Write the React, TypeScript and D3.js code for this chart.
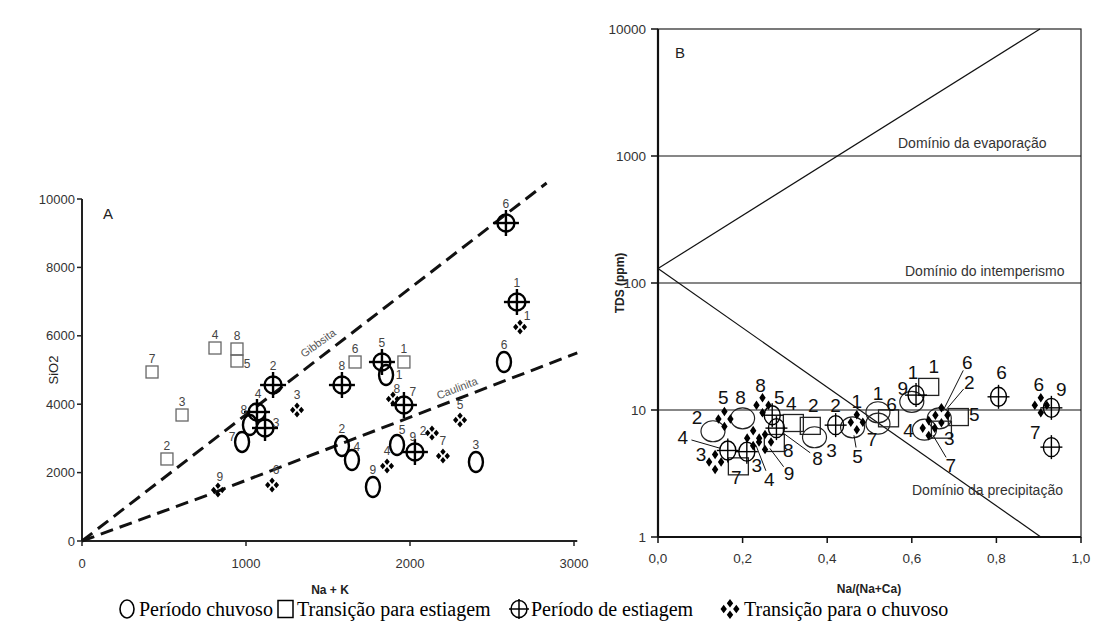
import React from 'react';
import * as d3 from 'd3';

// Each point: [sample number, x value, y value]
type Pt = [number, number, number];

// ---------- Panel A: SiO2 versus Na + K ----------
const chuvosoA: Pt[] = [
  [1, 1854, 4854], [2, 1585, 2778], [3, 2402, 2310], [4, 1646, 2368], [5, 1921, 2807],
  [6, 2573, 5234], [7, 976, 2895], [8, 1024, 3392], [9, 1774, 1579],
];
const transEstiagemA: Pt[] = [
  [1, 1963, 5234], [2, 518, 2398], [3, 610, 3684], [4, 811, 5643], [5, 945, 5263],
  [6, 1665, 5234], [7, 427, 4942], [8, 945, 5614],
];
const estiagemA: Pt[] = [
  [1, 2652, 6988], [2, 1165, 4561], [3, 1116, 3304], [4, 1067, 3772], [5, 1829, 5234],
  [6, 2585, 9298], [7, 1963, 3977], [8, 1585, 4561], [9, 2030, 2602],
];
const transChuvosoA: Pt[] = [
  [1, 2671, 6257], [2, 2134, 3158], [3, 1311, 3830], [4, 1860, 2193], [5, 2305, 3538],
  [6, 1159, 1637], [7, 2201, 2485], [8, 1896, 4152], [9, 829, 1491],
];
const gibbsitaLine: [number, number][] = [[0, 0], [2833, 10468]];
const caulinitaLine: [number, number][] = [[0, 0], [770, 1350], [3020, 5500]];
const sio2Ticks = [0, 2000, 4000, 6000, 8000, 10000];
const nakTicks = [0, 1000, 2000, 3000];

// ---------- Panel B: TDS versus Na/(Na+Ca) ----------
const chuvosoB: Pt[] = [
  [1, 0.52, 9.6], [2, 0.13, 6.8], [3, 0.37, 6.1], [4, 0.63, 7.0], [5, 0.46, 7.3],
  [6, 0.665, 8.6], [7, 0.52, 7.8], [8, 0.2, 8.6], [9, 0.6, 11.6],
];
const transEstiagemB: Pt[] = [
  [1, 0.64, 15.2], [2, 0.36, 7.5], [3, 0.67, 7.0], [4, 0.32, 7.9], [5, 0.71, 8.8],
  [6, 0.545, 8.6], [7, 0.19, 3.6], [8, 0.275, 5.5],
];
const estiagemB: Pt[] = [
  [1, 0.61, 13.1], [2, 0.42, 7.6], [3, 0.21, 4.7], [4, 0.165, 4.8], [5, 0.27, 9.1],
  [6, 0.805, 12.7], [7, 0.93, 5.1], [8, 0.28, 7.2], [9, 0.93, 10.4],
];
const transChuvosoB: Pt[] = [
  [1, 0.47, 8.0], [2, 0.67, 9.1], [3, 0.135, 3.9], [4, 0.225, 6.0], [5, 0.157, 8.5],
  [6, 0.905, 10.9], [7, 0.64, 7.2], [8, 0.247, 10.9], [9, 0.253, 5.6],
];
const evaporationLine: [number, number][] = [[0, 130], [0.903, 10000]];
const precipitationLine: [number, number][] = [[0, 130], [0.905, 1]];
const domainLevels = [10, 100, 1000];
const tdsTicks = [1, 10, 100, 1000, 10000];
const ratioTicks = [0, 0.2, 0.4, 0.6, 0.8, 1.0];

const legendItems = ['Período chuvoso', 'Transição para estiagem', 'Período de estiagem', 'Transição para o chuvoso'];

// ---------- label placement (pixel offsets from the mark) ----------
type Off = [number, number, boolean?];
const defaultDyA = { c: -17, s: -13, x: -19, d: -15 };
const labelOffA: Record<string, Off> = {
  c1: [13, 0], c4: [5, -13], c5: [5, -15], c7: [-10, -5], c8: [-6, -15],
  s5: [10, 3],
  x3: [11, -5], x7: [9, -13], x9: [-2, -15], x4: [1, -18],
  d1: [7, -11], d2: [-9, -2], d6: [4, -15], d8: [4, -10], d9: [2, -13],
};
const labelOffB: Record<string, Off> = {
  c1: [0, -19], c2: [-16, -14], c3: [17, 13], c4: [-16, 1], c5: [5, 29, true], c6: [28, -56, true],
  c7: [-6, 16], c8: [-2, -21], c9: [-9, -13],
  s1: [5, -20], s2: [3, -20], s3: [8, 9], s4: [-2, -20], s5: [16, -3], s6: [3, -14], s7: [-2, 11], s8: [14, 8],
  x1: [-3, -23], x2: [0, -20], x3: [10, 14], x4: [-45, -13, true], x5: [7, -18], x6: [3, -24],
  x7: [-16, -15], x8: [41, 30, true], x9: [10, -18],
  d1: [0, -21], d2: [28, -33, true], d3: [-14, -7], d4: [16, 41, true], d5: [-1, -21], d6: [-2, -21],
  d7: [22, 37, true], d8: [-2, -20], d9: [24, 32, true],
};

const xA = d3.scaleLinear().domain([0, 3000]).range([82, 574]);
const yA = d3.scaleLinear().domain([0, 10000]).range([541, 199]);
const xB = d3.scaleLinear().domain([0, 1]).range([658, 1081]);
const yB = d3.scaleLog().domain([1, 10000]).range([537, 29]);

const SANS = 'Arial, "Liberation Sans", Helvetica, sans-serif';
const SERIF = '"Liberation Serif", "Times New Roman", serif';

function diamondPath(cx: number, cy: number, hw: number, hh: number) {
  return `M${cx},${cy - hh}L${cx + hw},${cy}L${cx},${cy + hh}L${cx - hw},${cy}Z`;
}

function Diamonds({ x, y, hw, hh, ox, oy }: { x: number; y: number; hw: number; hh: number; ox: number; oy: number }) {
  const d = [
    diamondPath(x, y - oy, hw, hh),
    diamondPath(x - ox, y, hw, hh),
    diamondPath(x + ox, y, hw, hh),
    diamondPath(x, y + oy, hw, hh),
  ].join('');
  return <path d={d} fill="#000" stroke="none" />;
}

function Crosshair({ x, y, rx, ry, cx, cy, sw }: { x: number; y: number; rx: number; ry: number; cx: number; cy: number; sw: number }) {
  return (
    <g stroke="#000" strokeWidth={sw} fill="none">
      <ellipse cx={x} cy={y} rx={rx} ry={ry} />
      <line x1={x - cx} x2={x + cx} y1={y} y2={y} />
      <line x1={x} x2={x} y1={y - cy} y2={y + cy} />
    </g>
  );
}

function PanelA() {
  const line = d3.line<[number, number]>().x(d => xA(d[0])).y(d => yA(d[1]));
  const label = (key: string, kind: 'c' | 's' | 'x' | 'd', p: Pt) => {
    const off = labelOffA[key] || [0, defaultDyA[kind]];
    return (
      <text key={'l' + key} x={xA(p[1]) + off[0]} y={yA(p[2]) + off[1]} fontSize={12} fill="#444"
        textAnchor="middle" dominantBaseline="central" fontFamily={SANS}>{p[0]}</text>
    );
  };
  return (
    <g>
      {/* axes */}
      <line x1={xA(0)} x2={xA(0)} y1={yA(0)} y2={yA(10000)} stroke="#222" strokeWidth={2} />
      <line x1={xA(0)} x2={xA(3020)} y1={yA(0)} y2={yA(0)} stroke="#222" strokeWidth={2} />
      {sio2Ticks.map(t => (
        <g key={'ya' + t}>
          <line x1={xA(0) - 5} x2={xA(0)} y1={yA(t)} y2={yA(t)} stroke="#222" strokeWidth={1.5} />
          <text x={xA(0) - 7} y={yA(t)} textAnchor="end" dominantBaseline="central" fontSize={13}
            fill="#333" fontFamily={SANS}>{t}</text>
        </g>
      ))}
      {nakTicks.map(t => (
        <g key={'xa' + t}>
          <line x1={xA(t)} x2={xA(t)} y1={yA(0)} y2={yA(0) + 5} stroke="#222" strokeWidth={1.5} />
          <text x={xA(t)} y={yA(0) + 22} textAnchor="middle" dominantBaseline="central" fontSize={13}
            fill="#333" fontFamily={SANS}>{t}</text>
        </g>
      ))}
      <text x={53} y={370} transform="rotate(-90 53 370)" textAnchor="middle" dominantBaseline="central"
        fontSize={13} fill="#222" fontFamily={SANS}>SiO2</text>
      <text x={330} y={590} textAnchor="middle" dominantBaseline="central" fontSize={12} fontWeight="bold"
        fill="#222" fontFamily={SANS}>Na + K</text>
      <text x={108} y={213} textAnchor="middle" dominantBaseline="central" fontSize={15} fill="#222"
        fontFamily={SANS}>A</text>

      {/* reference lines */}
      <path d={line(gibbsitaLine) || ''} fill="none" stroke="#111" strokeWidth={3} strokeDasharray="13 7" />
      <path d={line(caulinitaLine) || ''} fill="none" stroke="#111" strokeWidth={3} strokeDasharray="13 7" />
      <text x={318} y={343} transform="rotate(-36 318 343)" textAnchor="middle" dominantBaseline="central"
        fontSize={11} fill="#555" fontFamily={SANS}>Gibbsita</text>
      <text x={457} y={388} transform="rotate(-21 457 388)" textAnchor="middle" dominantBaseline="central"
        fontSize={11} fill="#555" fontFamily={SANS}>Caulinita</text>

      {/* samples */}
      {transEstiagemA.map(p => (
        <rect key={'sa' + p[0]} x={xA(p[1]) - 6} y={yA(p[2]) - 6} width={12} height={12}
          fill="none" stroke="#666" strokeWidth={1.3} />
      ))}
      {chuvosoA.map(p => (
        <ellipse key={'ca' + p[0]} cx={xA(p[1])} cy={yA(p[2])} rx={7} ry={10}
          fill="none" stroke="#000" strokeWidth={2.4} />
      ))}
      {estiagemA.map(p => (
        <Crosshair key={'xa' + p[0]} x={xA(p[1])} y={yA(p[2])} rx={8.5} ry={8.5} cx={13} cy={13} sw={2.4} />
      ))}
      {transChuvosoA.map(p => (
        <Diamonds key={'da' + p[0]} x={xA(p[1])} y={yA(p[2])} hw={2.7} hh={3.3} ox={4.3} oy={4.3} />
      ))}
      {transEstiagemA.map(p => label('s' + p[0], 's', p))}
      {chuvosoA.map(p => label('c' + p[0], 'c', p))}
      {estiagemA.map(p => label('x' + p[0], 'x', p))}
      {transChuvosoA.map(p => label('d' + p[0], 'd', p))}
    </g>
  );
}

function PanelB() {
  const line = d3.line<[number, number]>().x(d => xB(d[0])).y(d => yB(d[1]));
  const label = (key: string, p: Pt) => {
    const off = labelOffB[key] || [0, -20];
    const mx = xB(p[1]), my = yB(p[2]);
    const lx = mx + off[0], ly = my + off[1];
    let leader = null;
    if (off[2]) {
      const dist = Math.hypot(off[0], off[1]);
      const ux = -off[0] / dist, uy = -off[1] / dist;
      leader = <line x1={lx + ux * 9} y1={ly + uy * 9} x2={mx - ux * 8} y2={my - uy * 8} stroke="#111" strokeWidth={1} />;
    }
    return (
      <g key={'lb' + key}>
        {leader}
        <text x={lx} y={ly} fontSize={19} fill="#111" textAnchor="middle" dominantBaseline="central"
          fontFamily={SANS}>{p[0]}</text>
      </g>
    );
  };
  return (
    <g>
      {/* frame */}
      <rect x={xB(0)} y={yB(10000)} width={xB(1) - xB(0)} height={yB(1) - yB(10000)} fill="none" stroke="#222" strokeWidth={1.2} />
      <line x1={xB(0)} x2={xB(0)} y1={yB(1)} y2={yB(10000)} stroke="#111" strokeWidth={2.2} />
      <line x1={xB(0)} x2={xB(1)} y1={yB(1)} y2={yB(1)} stroke="#111" strokeWidth={2.2} />
      {tdsTicks.map(t => (
        <g key={'yb' + t}>
          <line x1={xB(0) - 7} x2={xB(0)} y1={yB(t)} y2={yB(t)} stroke="#111" strokeWidth={1.5} />
          <text x={xB(0) - 12} y={yB(t)} textAnchor="end" dominantBaseline="central" fontSize={13.5}
            fill="#333" fontFamily={SANS}>{t}</text>
        </g>
      ))}
      {ratioTicks.map(t => (
        <g key={'xb' + t}>
          <line x1={xB(t)} x2={xB(t)} y1={yB(1)} y2={yB(1) + 6} stroke="#111" strokeWidth={1.5} />
          <text x={xB(t)} y={yB(1) + 21} textAnchor="middle" dominantBaseline="central" fontSize={13.5}
            fill="#333" fontFamily={SANS}>{d3.format('.1f')(t).replace('.', ',')}</text>
        </g>
      ))}
      <text x={620} y={283} transform="rotate(-90 620 283)" textAnchor="middle" dominantBaseline="central"
        fontSize={12} fontWeight="bold" fill="#222" fontFamily={SANS}>TDS (ppm)</text>
      <text x={869} y={589} textAnchor="middle" dominantBaseline="central" fontSize={12} fontWeight="bold"
        fill="#222" fontFamily={SANS}>Na/(Na+Ca)</text>
      <text x={680} y={52} textAnchor="middle" dominantBaseline="central" fontSize={15} fill="#222"
        fontFamily={SANS}>B</text>

      {/* domain boundaries */}
      {domainLevels.map(v => (
        <line key={'h' + v} x1={xB(0)} x2={xB(1)} y1={yB(v)} y2={yB(v)} stroke="#111" strokeWidth={1.2} />
      ))}
      <path d={line(evaporationLine) || ''} fill="none" stroke="#111" strokeWidth={1.2} />
      <path d={line(precipitationLine) || ''} fill="none" stroke="#111" strokeWidth={1.2} />
      <text x={898} y={143} dominantBaseline="central" fontSize={14} fill="#333" fontFamily={SANS}>Domínio da evaporação</text>
      <text x={905} y={271} dominantBaseline="central" fontSize={14} fill="#333" fontFamily={SANS}>Domínio do intemperismo</text>
      <text x={912} y={490} dominantBaseline="central" fontSize={14} fill="#333" fontFamily={SANS}>Domínio da precipitação</text>

      {/* samples */}
      {chuvosoB.map(p => (
        <ellipse key={'cb' + p[0]} cx={xB(p[1])} cy={yB(p[2])} rx={12} ry={10.5} fill="none" stroke="#222" strokeWidth={1.2} />
      ))}
      {transEstiagemB.map(p => (
        <rect key={'sb' + p[0]} x={xB(p[1]) - 10} y={yB(p[2]) - 8.5} width={20} height={17} fill="none" stroke="#222" strokeWidth={1.3} />
      ))}
      {estiagemB.map(p => (
        <Crosshair key={'xb' + p[0]} x={xB(p[1])} y={yB(p[2])} rx={8} ry={9.5} cx={11} cy={12} sw={1.4} />
      ))}
      {transChuvosoB.map(p => (
        <Diamonds key={'db' + p[0]} x={xB(p[1])} y={yB(p[2])} hw={3.2} hh={4.8} ox={6} oy={7.5} />
      ))}
      {chuvosoB.map(p => label('c' + p[0], p))}
      {transEstiagemB.map(p => label('s' + p[0], p))}
      {estiagemB.map(p => label('x' + p[0], p))}
      {transChuvosoB.map(p => label('d' + p[0], p))}
    </g>
  );
}

function Legend() {
  const y = 609;
  const textX = [139, 297, 531, 744];
  return (
    <g fontFamily={SERIF} fontSize={20} fill="#000">
      <ellipse cx={127} cy={y} rx={7} ry={9} fill="none" stroke="#000" strokeWidth={1.6} />
      <rect x={278} y={y - 8.5} width={15} height={17} fill="none" stroke="#000" strokeWidth={1.5} />
      <Crosshair x={519} y={y} rx={8} ry={8.5} cx={10} cy={10} sw={1.5} />
      <Diamonds x={730} y={y} hw={3.2} hh={4.3} ox={6.3} oy={5.8} />
      {legendItems.map((t, i) => (
        <text key={t} x={textX[i]} y={y} dominantBaseline="central">{t}</text>
      ))}
    </g>
  );
}

export default function App() {
  return (
    <div style={{ position: 'absolute', left: 0, top: 0, width: 1100, height: 633, background: '#fff' }}>
      <svg width={1100} height={633} viewBox="0 0 1100 633" style={{ display: 'block' }}>
        <rect width={1100} height={633} fill="#fff" />
        <PanelA />
        <PanelB />
        <Legend />
      </svg>
    </div>
  );
}
